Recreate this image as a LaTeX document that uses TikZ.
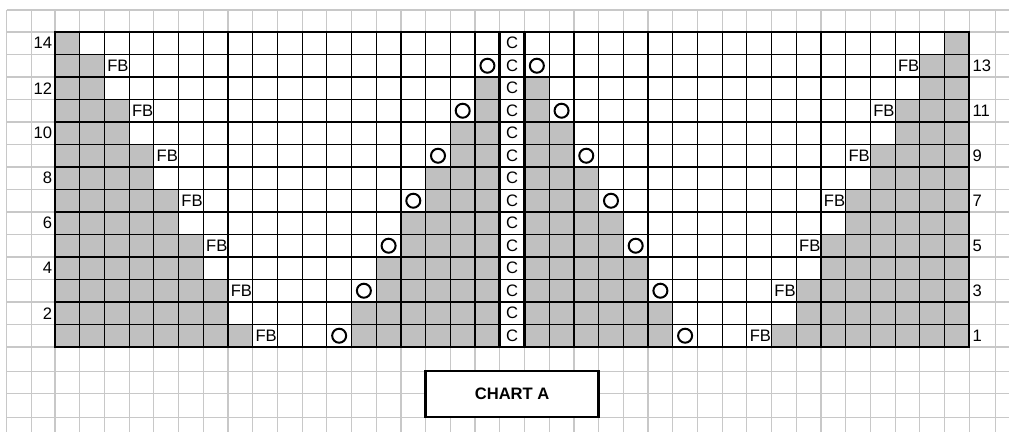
\documentclass[tikz,border=0pt]{standalone}
\usepackage{fontspec}
\setmainfont{Liberation Sans}
\usepackage{tikz}
\usetikzlibrary{positioning}

\begin{document}
\begin{tikzpicture}[x=12.355pt, y=11.25pt, font=\fontsize{8.3}{9}\selectfont,
    sheetline/.style={draw=sheetgray, line width=0.6pt},
    cellline/.style={draw=black, line width=0.6pt},
    fbtext/.style={anchor=west, inner sep=0pt},
    ctext/.style={inner sep=0pt},
    yo/.style={circle, draw=black, line width=1pt, minimum size=7pt, inner sep=0pt},
    rownum/.style={inner sep=0pt}]
  \definecolor{sheetgray}{HTML}{C8C8C8}
  \definecolor{purlgray}{HTML}{C0C0C0}

  \useasboundingbox (-2.226,-3.778) rectangle (38.608,15.422);

  % spreadsheet grid
  \foreach \x in {-1.955,-0.943,38.06}
    \draw[sheetline] (\x,-3.778) -- (\x,14.98);
  \foreach \x in {0,...,37}
    \draw[sheetline] (\x,-3.778) -- (\x,14.98);
  \foreach \y in {-3.124,-2.058,-1.08,14.98}
    \draw[sheetline] (-1.955,\y) -- (38.608,\y);
  \foreach \y in {0,...,14}
    \draw[sheetline] (-1.955,\y) -- (38.608,\y);

  % purl stitches
  \foreach \r in {1,...,14} {
    \pgfmathtruncatemacro{\g}{floor((17-\r)/2)}
    \pgfmathtruncatemacro{\n}{floor((14-\r)/2)}
    \fill[purlgray] (0,\r-1) rectangle (\g,\r);
    \fill[purlgray] (37-\g,\r-1) rectangle (37,\r);
    \ifnum\n>0
      \fill[purlgray] (18-\n,\r-1) rectangle (18,\r);
      \fill[purlgray] (19,\r-1) rectangle (19+\n,\r);
    \fi
  }

  % chart lines
  \draw[cellline, step=1] (0,0) grid (37,14);
  \draw[line width=1.2pt] (0,0) rectangle (37,14);
  \draw[line width=1.6pt] (18,0) -- (18,14) (19,0) -- (19,14);

  % centre column
  \foreach \r in {1,...,14}
    \node[ctext] (c\r) at (18.5,\r-0.5) {C};

  % increases, yarn overs, odd row numbers
  \foreach \r in {1,3,...,13} {
    \pgfmathtruncatemacro{\g}{(17-\r)/2}
    \pgfmathtruncatemacro{\s}{(13-\r)/2}
    \node[fbtext] (incL\r) at (\g+0.1,\r-0.5) {FB};
    \node[fbtext] (incR\r) at (36-\g+0.1,\r-0.5) {FB};
    \node[yo] (yoL\r) at (17.5-\s,\r-0.5) {};
    \node[yo] (yoR\r) at (19.5+\s,\r-0.5) {};
    \node[rownum, anchor=west] (rowR\r) at (37.12,\r-0.5) {\r};
  }
  \foreach \r in {2,4,...,14}
    \node[rownum, anchor=east] (rowL\r) at (-0.1,\r-0.5) {\r};

  \node[draw, line width=1.2pt, fill=white, minimum width=86.5pt, minimum height=23pt,
    inner sep=0pt, font=\fontsize{8.3}{9}\selectfont\bfseries] (title) at (18.5,-2.102) {CHART A};
\end{tikzpicture}
\end{document}
